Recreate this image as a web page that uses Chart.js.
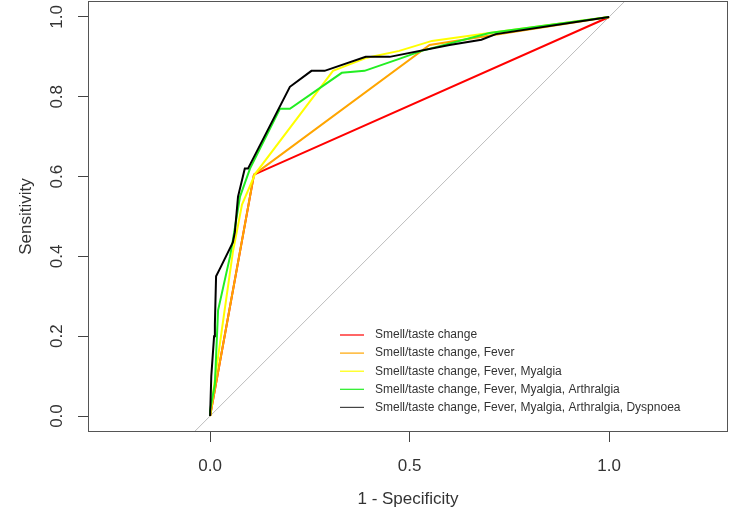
<!DOCTYPE html>
<html>
<head>
<meta charset="utf-8">
<script src="https://cdn.jsdelivr.net/npm/chart.js@4.4.1/dist/chart.umd.min.js"></script>
<style>
    html, body { margin: 0; padding: 0; background: #fff; }
    #wrap { width: 734px; height: 518px; }
</style>
</head>
<body>
<div id="wrap"><canvas id="rocCanvas" width="734" height="518"></canvas></div>
<script>
// ============================================
// DATA - ROC curves (x = 1 - specificity, y = sensitivity)
// ============================================

const seriesLabels = [
    'Smell/taste change',
    'Smell/taste change, Fever',
    'Smell/taste change, Fever, Myalgia',
    'Smell/taste change, Fever, Myalgia, Arthralgia',
    'Smell/taste change, Fever, Myalgia, Arthralgia, Dyspnoea'
];
const seriesColors = ['#ff0000', '#ffa500', '#ffff00', '#22ee22', '#000000'];

const fprSmell = [0, 0.11, 1];
const sensSmell = [0, 0.605, 1];

const fprFever = [0, 0.11, 0.55, 1];
const sensFever = [0, 0.605, 0.93, 1];

const fprMyalgia = [0, 0.005, 0.03, 0.057, 0.08, 0.113, 0.308, 0.393, 0.474, 0.556, 0.7, 1];
const sensMyalgia = [0, 0.04, 0.22, 0.41, 0.53, 0.607, 0.865, 0.898, 0.915, 0.94, 0.96, 1];

const fprArthralgia = [0, 0, 0.012, 0.02, 0.05, 0.057, 0.075, 0.1, 0.175, 0.2, 0.33, 0.387, 0.474, 0.53, 0.7, 1];
const sensArthralgia = [0, 0.015, 0.08, 0.265, 0.4, 0.44, 0.55, 0.62, 0.77, 0.77, 0.86, 0.865, 0.895, 0.915, 0.96, 1];

const fprDyspnoea = [0, 0.003, 0.01, 0.012, 0.015, 0.025, 0.057, 0.062, 0.07, 0.087, 0.095, 0.2, 0.207, 0.254, 0.287, 0.39, 0.45, 0.6, 0.68, 0.716, 1];
const sensDyspnoea = [0, 0.1, 0.2, 0.23, 0.35, 0.37, 0.435, 0.46, 0.55, 0.62, 0.62, 0.825, 0.83, 0.865, 0.865, 0.9, 0.9, 0.93, 0.943, 0.957, 1];

const refLine = [-0.1, 1.1];

const xTicks = [0, 0.5, 1];
const yTicks = [0, 0.2, 0.4, 0.6, 0.8, 1];

// ============================================
// HELPERS
// ============================================

function toPoints(xs, ys) {
    return xs.map(function(x, i) {
        return { x: x, y: ys[i] };
    });
}

const allX = [fprSmell, fprFever, fprMyalgia, fprArthralgia, fprDyspnoea];
const allY = [sensSmell, sensFever, sensMyalgia, sensArthralgia, sensDyspnoea];

const rocSets = seriesLabels.map(function(label, i) {
    return {
        label: label,
        data: toPoints(allX[i], allY[i]),
        borderColor: seriesColors[i],
        borderWidth: 2,
        pointRadius: 0,
        showLine: true,
        tension: 0,
        order: seriesLabels.length - i
    };
});

rocSets.push({
    label: 'diagonal',
    data: toPoints(refLine, refLine),
    borderColor: '#bdbdbd',
    borderWidth: 1,
    pointRadius: 0,
    showLine: true,
    order: 99
});

// box around the plot region + R style legend (no frame)
const boxAndLegend = {
    id: 'boxAndLegend',
    afterDatasetsDraw: function(chart) {
        const ctx = chart.ctx;
        const a = chart.chartArea;
        ctx.save();
        ctx.strokeStyle = '#555';
        ctx.lineWidth = 1;
        ctx.strokeRect(Math.round(a.left) + 0.5, Math.round(a.top) + 0.5,
            Math.round(a.right - a.left) - 1, Math.round(a.bottom - a.top) - 1);

        const lx = a.left + 252;
        const ly = a.top + 334;
        ctx.font = '12px "Liberation Sans", Arial, sans-serif';
        ctx.textBaseline = 'middle';
        ctx.textAlign = 'left';
        for (let i = 0; i < seriesLabels.length; i++) {
            const y = ly + i * 18.1;
            ctx.strokeStyle = seriesColors[i] === '#000000' ? '#444' : seriesColors[i];
            ctx.lineWidth = 1.2;
            ctx.beginPath();
            ctx.moveTo(lx, y);
            ctx.lineTo(lx + 24, y);
            ctx.stroke();
            ctx.fillStyle = '#333';
            ctx.fillText(seriesLabels[i], lx + 35, y);
        }
        ctx.restore();
    }
};

// ============================================
// CHART
// ============================================

const axisFont = { family: '"Liberation Sans", Arial, sans-serif', size: 17 };

const chart = new Chart(document.getElementById('rocCanvas').getContext('2d'), {
    type: 'scatter',
    data: { datasets: rocSets },
    options: {
        responsive: false,
        animation: false,
        layout: { padding: { top: 1, right: 6, left: 0, bottom: 0 } },
        plugins: {
            legend: { display: false },
            tooltip: { enabled: false }
        },
        scales: {
            x: {
                type: 'linear',
                min: -0.306,
                max: 1.298,
                afterBuildTicks: function(scale) {
                    scale.ticks = xTicks.map(function(v) { return { value: v }; });
                },
                afterFit: function(scale) {
                    scale.height = 86;
                    scale.paddingLeft = 0;
                    scale.paddingRight = 0;
                },
                border: { display: false },
                grid: { drawOnChartArea: false, drawTicks: true, tickLength: 10, tickColor: '#444' },
                ticks: {
                    color: '#333',
                    font: axisFont,
                    padding: 14,
                    maxRotation: 0,
                    callback: function(v) { return Number(v).toFixed(1); }
                },
                title: {
                    display: true,
                    text: '1 - Specificity',
                    color: '#333',
                    font: axisFont,
                    padding: { top: 0, bottom: 8 }
                }
            },
            y: {
                type: 'linear',
                min: -0.04,
                max: 1.04,
                afterBuildTicks: function(scale) {
                    scale.ticks = yTicks.map(function(v) { return { value: v }; });
                },
                afterFit: function(scale) {
                    scale.width = 88;
                    scale.paddingTop = 0;
                    scale.paddingBottom = 0;
                },
                border: { display: false },
                grid: { drawOnChartArea: false, drawTicks: true, tickLength: 10, tickColor: '#444' },
                ticks: {
                    color: '#333',
                    font: axisFont,
                    padding: 9,
                    minRotation: 90,
                    maxRotation: 90,
                    crossAlign: 'center',
                    callback: function(v) { return Number(v).toFixed(1); }
                },
                title: {
                    display: true,
                    text: 'Sensitivity',
                    color: '#333',
                    font: axisFont,
                    padding: { top: 16, bottom: 0 }
                }
            }
        }
    },
    plugins: [boxAndLegend]
});
</script>
</body>
</html>
